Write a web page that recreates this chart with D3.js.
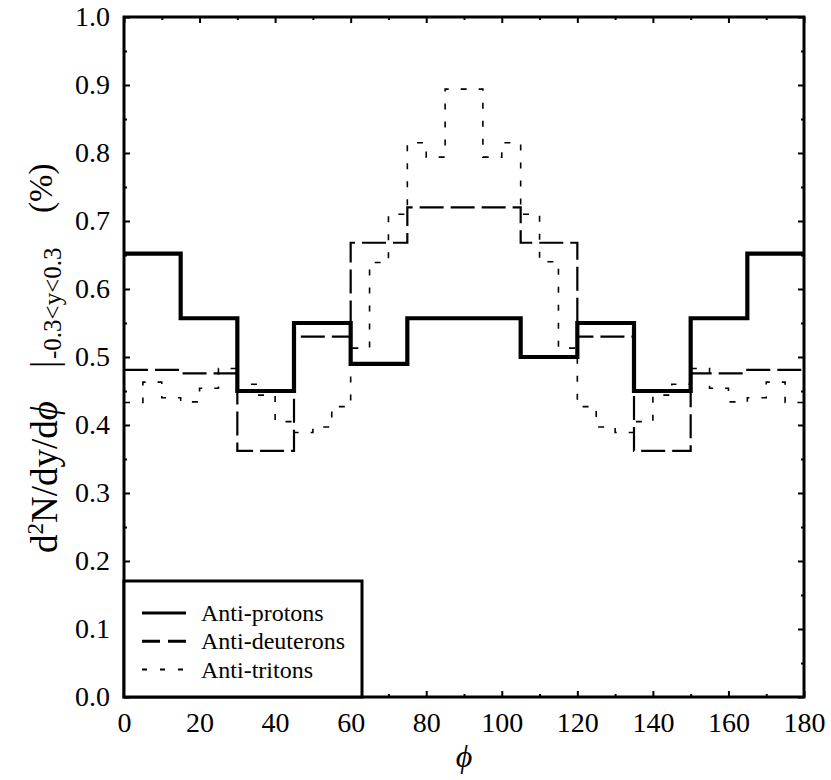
<!DOCTYPE html>
<html>
<head>
<meta charset="utf-8">
<script src="https://cdn.jsdelivr.net/npm/d3@7"></script>
<style>
  html, body { margin: 0; padding: 0; background: #fff; }
  svg { display: block; }
  text { font-family: "Liberation Serif", "Times New Roman", serif; fill: #000; }
</style>
</head>
<body>
<svg id="chart" width="831" height="780"></svg>
<script>
// ---- data ----
const protonEdges = [0, 15, 30, 45, 60, 75, 90, 105, 120, 135, 150, 165, 180];
const protons   = [0.652, 0.557, 0.450, 0.550, 0.490, 0.557, 0.557, 0.500, 0.550, 0.450, 0.557, 0.652];
const deuterons = [0.481, 0.476, 0.362, 0.530, 0.668, 0.720, 0.720, 0.668, 0.530, 0.362, 0.476, 0.481];
const tritonEdges = d3.range(0, 181, 5);
const tritons = [0.433, 0.463, 0.440, 0.434, 0.454, 0.483, 0.460, 0.444, 0.405, 0.389, 0.397, 0.427,
                 0.513, 0.639, 0.710, 0.815, 0.794, 0.894, 0.894, 0.794, 0.815, 0.710, 0.640, 0.513,
                 0.427, 0.397, 0.389, 0.405, 0.444, 0.460, 0.483, 0.454, 0.434, 0.440, 0.463, 0.433];
const xTicks = [0, 20, 40, 60, 80, 100, 120, 140, 160, 180];
const xMinor = [10, 30, 50, 70, 90, 110, 130, 150, 170];
const yTicks = [0, 0.1, 0.2, 0.3, 0.4, 0.5, 0.6, 0.7, 0.8, 0.9, 1.0];
const yMinor = [0.05, 0.15, 0.25, 0.35, 0.45, 0.55, 0.65, 0.75, 0.85, 0.95];
const legendNames = ["Anti-protons", "Anti-deuterons", "Anti-tritons"];

// ---- layout ----
const L = 124, R = 804, T = 17, B = 697;
const svg = d3.select("#chart");
const x = d3.scaleLinear().domain([0, 180]).range([L, R]);
const y = d3.scaleLinear().domain([0, 1]).range([B, T]);

// axes: ticks inward
const gB = svg.append("g").attr("transform", `translate(0,${B})`)
  .call(d3.axisBottom(x).tickValues(xTicks).tickSize(-6).tickPadding(0).tickFormat(d3.format("d")));
gB.selectAll("text").attr("y", 35).attr("dy", 0).style("font-size", "28px");
svg.append("g").attr("transform", `translate(0,${B})`)
  .call(d3.axisBottom(x).tickValues(xMinor).tickSize(-3).tickFormat(""));
svg.append("g").attr("transform", `translate(0,${T})`)
  .call(d3.axisTop(x).tickValues(xTicks).tickSize(-6).tickFormat(""));
svg.append("g").attr("transform", `translate(0,${T})`)
  .call(d3.axisTop(x).tickValues(xMinor).tickSize(-3).tickFormat(""));

const gL = svg.append("g").attr("transform", `translate(${L},0)`)
  .call(d3.axisLeft(y).tickValues(yTicks).tickSize(-6).tickPadding(14).tickFormat(d3.format(".1f")));
gL.selectAll("text").style("font-size", "28px");
svg.append("g").attr("transform", `translate(${L},0)`)
  .call(d3.axisLeft(y).tickValues(yMinor).tickSize(-3).tickFormat(""));
svg.append("g").attr("transform", `translate(${R},0)`)
  .call(d3.axisRight(y).tickValues(yTicks).tickSize(-6).tickFormat(""));
svg.append("g").attr("transform", `translate(${R},0)`)
  .call(d3.axisRight(y).tickValues(yMinor).tickSize(-3).tickFormat(""));

svg.selectAll(".domain").remove();
svg.selectAll(".tick line").attr("stroke", "#000").attr("stroke-width", 2);
svg.selectAll(".tick text").attr("font-family", null);

// ---- histograms ----
const stepLine = d3.line().x(d => x(d[0])).y(d => y(d[1])).curve(d3.curveStepAfter);
function pts(edges, vals) {
  const p = vals.map((v, i) => [edges[i], v]);
  p.push([edges[edges.length - 1], vals[vals.length - 1]]);
  return p;
}
svg.append("clipPath").attr("id", "plotclip")
  .append("rect").attr("x", L).attr("y", T).attr("width", R - L).attr("height", B - T);
const plot = svg.append("g").attr("clip-path", "url(#plotclip)");

plot.append("path").attr("d", stepLine(pts(tritonEdges, tritons)))
  .attr("fill", "none").attr("stroke", "#000").attr("stroke-width", 1.6).attr("stroke-dasharray", "6,12");
plot.append("path").attr("d", stepLine(pts(protonEdges, deuterons)))
  .attr("fill", "none").attr("stroke", "#000").attr("stroke-width", 2.2).attr("stroke-dasharray", "24,7");
plot.append("path").attr("d", stepLine(pts(protonEdges, protons)))
  .attr("fill", "none").attr("stroke", "#000").attr("stroke-width", 4.2).attr("stroke-linejoin", "miter");

// frame
svg.append("rect").attr("x", L).attr("y", T).attr("width", R - L).attr("height", B - T)
  .attr("fill", "none").attr("stroke", "#000").attr("stroke-width", 3);

// ---- legend ----
const lg = svg.append("g");
lg.append("rect").attr("x", L).attr("y", 581).attr("width", 362 - L).attr("height", B - 581)
  .attr("fill", "#fff").attr("stroke", "#000").attr("stroke-width", 3);
const legStyles = [
  { w: 3, dash: null },
  { w: 3, dash: "18,8" },
  { w: 2, dash: "5,13" }
];
legendNames.forEach((name, i) => {
  const cy = 613 + i * 28.3;
  lg.append("line").attr("x1", 142).attr("x2", 186).attr("y1", cy).attr("y2", cy)
    .attr("stroke", "#000").attr("stroke-width", legStyles[i].w)
    .attr("stroke-dasharray", legStyles[i].dash);
  lg.append("text").attr("x", 201).attr("y", cy + 8).style("font-size", "24px").text(name);
});

// ---- axis titles ----
svg.append("text").attr("x", x(90)).attr("y", 767).attr("text-anchor", "middle")
  .style("font-size", "32px").style("font-style", "italic").text("ϕ");

const yl = svg.append("text").attr("transform", "translate(57,553) rotate(-90)")
  .style("font-size", "37px");
yl.append("tspan").text("d");
yl.append("tspan").attr("dy", -14).style("font-size", "23px").text("2");
yl.append("tspan").attr("dy", 14).text("N/dy/d");
yl.append("tspan").style("font-style", "italic").text("ϕ");

svg.append("text").attr("transform", "translate(57,368) rotate(-90)")
  .style("font-size", "37px").text("|");
svg.append("text").attr("transform", "translate(61,359) rotate(-90)")
  .style("font-size", "25px").text("-0.3<y<0.3");
svg.append("text").attr("transform", "translate(52,213) rotate(-90)")
  .style("font-size", "33px").text("(%)");
</script>
</body>
</html>
